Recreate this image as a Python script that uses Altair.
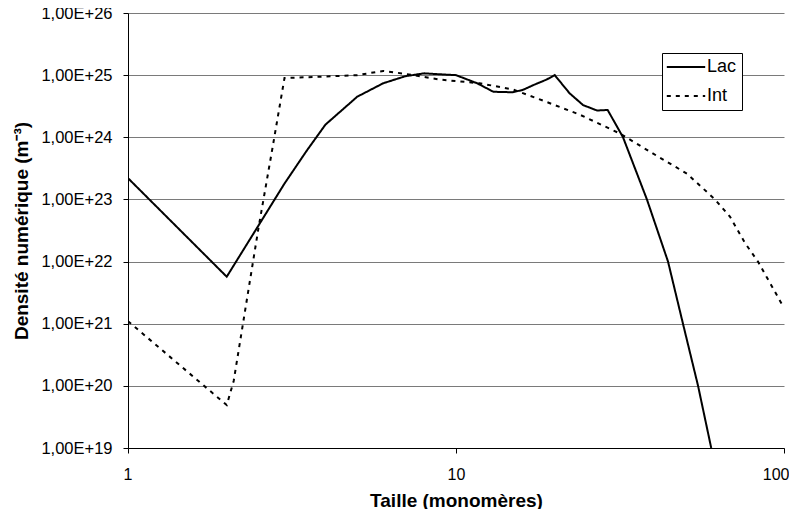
import altair as alt
import pandas as pd

# ---- data ----
series_names = ["Lac", "Int"]

lac_x = [1, 2, 3, 3.5, 4, 5, 6, 7, 8, 9, 10, 11.6, 13, 14.9, 16, 17.2, 18.9, 20,
         22.2, 24.4, 26.9, 29, 32.3, 38.2, 44.3, 49.2, 54.7, 60]
lac_y = [2.2e23, 5.7e21, 1.8e23, 6.0e23, 1.6e24, 4.5e24, 7.4e24, 9.6e24, 1.07e25,
         1.03e25, 1.0e25, 7.4e24, 5.4e24, 5.3e24, 5.8e24, 6.9e24, 8.5e24, 1.0e25,
         5.1e24, 3.3e24, 2.7e24, 2.75e24, 1.0e24, 1.0e23, 1.0e22, 1.0e21, 1.0e20, 1.0e19]

int_x = [1, 2, 2.1, 2.5, 2.75, 3, 4, 5, 6, 7, 8.9, 11.8, 14.9, 18.9, 23.9, 31.6,
         39.8, 50.6, 61.6, 68.4, 76, 83.3, 88.6, 100]
int_y = [1.1e21, 4.9e19, 1.2e20, 3.5e22, 6.2e23, 9.0e24, 9.5e24, 1.0e25, 1.17e25,
         1.05e25, 8.5e24, 7.4e24, 5.9e24, 3.7e24, 2.3e24, 1.15e24, 5.5e23, 2.6e23,
         1.0e23, 5.3e22, 2.0e22, 1.0e22, 5.6e21, 1.8e21]

x_ticks = [1, 10, 100]
y_ticks = [1e19, 1e20, 1e21, 1e22, 1e23, 1e24, 1e25, 1e26]

df = pd.concat([
    pd.DataFrame({"x": lac_x, "y": lac_y, "serie": series_names[0]}),
    pd.DataFrame({"x": int_x, "y": int_y, "serie": series_names[1]}),
], ignore_index=True)

FONT = "Liberation Sans"

chart = alt.Chart(df).mark_line(color="black", strokeWidth=2, clip=True).encode(
    x=alt.X("x:Q",
            scale=alt.Scale(type="log", domain=[1, 100]),
            axis=alt.Axis(values=x_ticks, format="d", grid=False,
                          title="Taille (monomères)", titleFont=FONT,
                          titleFontSize=19, titleFontWeight="bold",
                          titleColor="black", titlePadding=9,
                          labelFont=FONT, labelFontSize=16, labelColor="black",
                          labelPadding=13, tickSize=5, tickColor="black",
                          domainColor="black", labelFlush=True,
                          labelFlushOffset=5)),
    y=alt.Y("y:Q",
            scale=alt.Scale(type="log", domain=[1e19, 1e26]),
            axis=alt.Axis(values=y_ticks,
                          labelExpr="'1,00E+' + format(log(datum.value)/LN10, '.0f')",
                          grid=True, gridColor="#7a7a7a", gridWidth=1,
                          title="Densité numérique (m⁻³)", titleFont=FONT,
                          titleFontSize=19, titleFontWeight="bold",
                          titleColor="black", titlePadding=9,
                          labelFont=FONT, labelFontSize=16.5, labelColor="black",
                          labelPadding=11, tickSize=5, tickColor="black",
                          domainColor="black")),
    strokeDash=alt.StrokeDash(
        "serie:N",
        scale=alt.Scale(domain=series_names, range=[[1, 0], [4, 5]]),
        legend=alt.Legend(title=None, orient="none", legendX=534, legendY=40,
                          symbolType="M-2.4,0H2.4", symbolSize=256,
                          symbolOffset=10,
                          symbolStrokeWidth=2, symbolStrokeColor="black",
                          labelFont=FONT, labelFontSize=18, labelColor="black",
                          labelOffset=12, rowPadding=11, padding=5,
                          strokeColor="black", fillColor="white")),
).properties(
    width=656, height=435,
    autosize="none",
    padding={"left": 120, "top": 5, "right": 5, "bottom": 61},
).configure_view(stroke=None)

chart.save("out.html", embed_options={"renderer": "svg", "actions": False})
